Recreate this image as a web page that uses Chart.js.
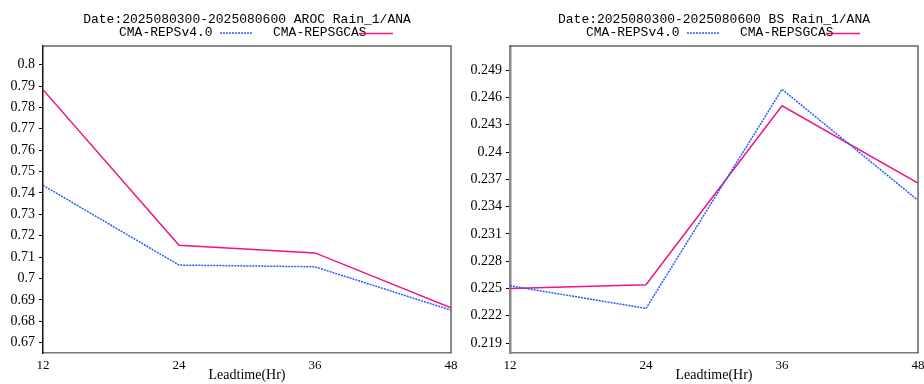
<!DOCTYPE html>
<html>
<head>
<meta charset="utf-8">
<title>AROC / BS Rain_1</title>
<script src="https://cdn.jsdelivr.net/npm/chart.js"></script>
<style>
  html, body { margin: 0; padding: 0; background: #fff; }
  .wrap { position: absolute; top: 0; width: 462px; height: 384px; }
  #w1 { left: 0; }
  #w2 { left: 462px; }
</style>
</head>
<body>
<div class="wrap" id="w1"><canvas id="aroc" width="462" height="384"></canvas></div>
<div class="wrap" id="w2"><canvas id="bs" width="462" height="384"></canvas></div>
<script>
// lead times (hours)
const leadtimes = [12, 24, 36, 48];

// AROC scores
const arocReps = [0.7436, 0.7063, 0.7055, 0.6852];
const arocGcas = [0.7883, 0.7156, 0.7120, 0.6863];

// BS scores
const bsReps = [0.2253, 0.2228, 0.2469, 0.2347];
const bsGcas = [0.2250, 0.2254, 0.2451, 0.2366];

// y axis ticks
const arocTicks = [0.67, 0.68, 0.69, 0.70, 0.71, 0.72, 0.73, 0.74, 0.75, 0.76, 0.77, 0.78, 0.79, 0.80];
const bsTicks = [0.219, 0.222, 0.225, 0.228, 0.231, 0.234, 0.237, 0.240, 0.243, 0.246, 0.249];

const seriesNames = ['CMA-REPSv4.0', 'CMA-REPSGCAS'];
const BLUE = 'rgb(40,90,255)';
const RED = 'rgb(240,20,130)';
const MONO = '"Liberation Mono", monospace';
const SERIF = '"Liberation Serif", serif';

const pts = (ys) => leadtimes.map((x, i) => ({ x: x, y: ys[i] }));

// title, legend and the top/right frame
const headerPlugin = {
  id: 'header',
  afterDraw(chart, args, opts) {
    const { ctx, chartArea: a } = chart;
    const cx = (a.left + a.right) / 2;
    ctx.save();
    ctx.strokeStyle = '#666';
    ctx.lineWidth = 1.5;
    ctx.beginPath();
    ctx.moveTo(a.left, a.top);
    ctx.lineTo(a.right, a.top);
    ctx.lineTo(a.right, a.bottom);
    ctx.stroke();

    ctx.fillStyle = '#000';
    ctx.font = '13px ' + MONO;
    ctx.textBaseline = 'middle';
    ctx.textAlign = 'center';
    ctx.fillText(opts.title, cx, 20);

    ctx.textAlign = 'left';
    ctx.fillText(seriesNames[0], cx - 128, 33);
    ctx.fillText(seriesNames[1], cx + 26, 33);

    ctx.lineWidth = 1.5;
    ctx.strokeStyle = BLUE;
    ctx.setLineDash([2, 1]);
    ctx.beginPath();
    ctx.moveTo(cx - 27, 33);
    ctx.lineTo(cx + 5, 33);
    ctx.stroke();
    ctx.setLineDash([]);
    ctx.strokeStyle = RED;
    ctx.beginPath();
    ctx.moveTo(cx + 112, 33.5);
    ctx.lineTo(cx + 146, 33.5);
    ctx.stroke();
    ctx.restore();
  }
};

function makeChart(id, title, reps, gcas, ticks, yMin, yMax, yWidth, rightPad, yBorder) {
  return new Chart(document.getElementById(id), {
    type: 'line',
    data: {
      datasets: [
        { label: seriesNames[0], data: pts(reps), borderColor: BLUE, borderWidth: 1.5,
          borderDash: [2, 1], pointRadius: 0, tension: 0, fill: false },
        { label: seriesNames[1], data: pts(gcas), borderColor: RED, borderWidth: 1.5,
          pointRadius: 0, tension: 0, fill: false }
      ]
    },
    options: {
      responsive: false,
      animation: false,
      devicePixelRatio: 1,
      layout: { padding: { top: 46, right: rightPad, bottom: 0, left: 0 } },
      plugins: {
        legend: { display: false },
        tooltip: { enabled: false },
        header: { title: title }
      },
      scales: {
        x: {
          type: 'linear',
          min: 12, max: 48,
          afterBuildTicks: (s) => { s.ticks = leadtimes.map(v => ({ value: v })); },
          afterFit: (s) => { s.height = 31; s.paddingLeft = 0; s.paddingRight = 0; },
          grid: { drawOnChartArea: false, drawTicks: false, tickLength: 0 },
          border: { color: '#777', width: 1.5 },
          ticks: { color: '#000', padding: 5, maxRotation: 0, autoSkip: false,
                   font: { family: SERIF, size: 13 } },
          title: { display: true, text: 'Leadtime(Hr)', color: '#000',
                   padding: { top: 0, bottom: 0 }, font: { family: SERIF, size: 14 } }
        },
        y: {
          min: yMin, max: yMax,
          afterBuildTicks: (s) => { s.ticks = ticks.map(v => ({ value: v })); },
          afterFit: (s) => { s.width = yWidth; },
          grid: { drawOnChartArea: false, drawTicks: true, tickLength: 4, color: '#000' },
          border: { color: yBorder.color, width: yBorder.width },
          ticks: { color: '#000', padding: 4, autoSkip: false,
                   font: { family: SERIF, size: 14 },
                   callback: (v) => String(Number(v.toFixed(3))) }
        }
      }
    },
    plugins: [headerPlugin]
  });
}

makeChart('aroc', 'Date:2025080300-2025080600 AROC Rain_1/ANA', arocReps, arocGcas,
  arocTicks, 0.6652, 0.8087, 43, 11, { color: '#111', width: 1.5 });
makeChart('bs', 'Date:2025080300-2025080600 BS Rain_1/ANA', bsReps, bsGcas,
  bsTicks, 0.2179, 0.25167, 48, 6, { color: '#888', width: 2.5 });
</script>
</body>
</html>
